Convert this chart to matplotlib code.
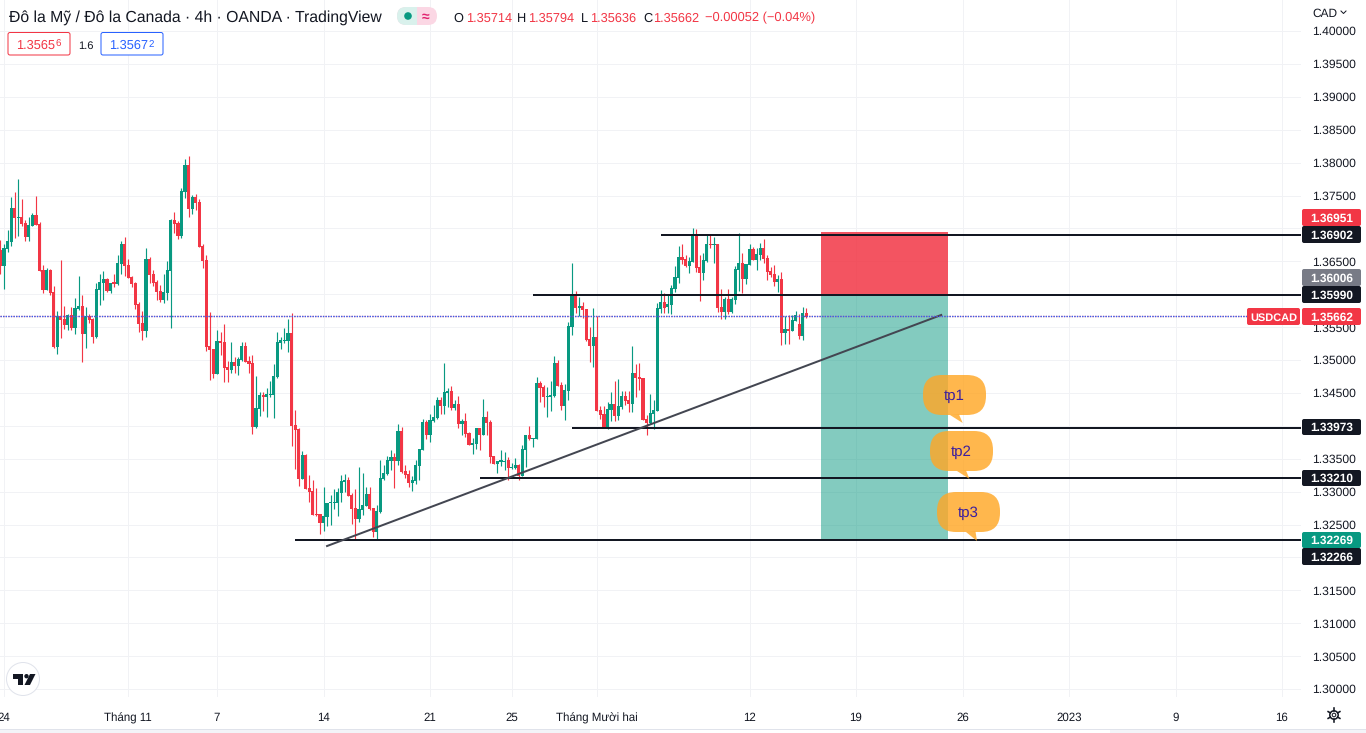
"""USDCAD 4h candlestick chart with a short position drawing, TradingView style."""

import matplotlib
matplotlib.use("Agg")
import matplotlib.pyplot as plt
import numpy as np
from matplotlib.patches import Circle, FancyBboxPatch, Polygon, Rectangle

plt.rcParams["font.family"] = ["Liberation Sans", "DejaVu Sans"]
plt.rcParams["text.hinting"] = "no_hinting"

# prices in pips (price * 10000)
opens = [
    13667,13643,13669,13679,13731,13716,13717,13708,13687,13704,
    13721,13707,13637,13607,13637,13603,13520,13567,13562,13553,
    13569,13549,13578,13582,13540,13567,13562,13535,13607,13617,
    13623,13605,13617,13616,13646,13676,13645,13626,13617,13585,
    13556,13544,13654,13631,13619,13605,13591,13602,13635,13713,
    13708,13689,13755,13797,13730,13748,13740,13673,13652,13521,
    13517,13479,13529,13527,13490,13485,13497,13491,13500,13521,
    13499,13496,13398,13426,13447,13444,13447,13447,13474,13526,
    13529,13529,13541,13401,13395,13319,13356,13306,13301,13266,
    13266,13252,13261,13283,13283,13283,13298,13315,13318,13295,
    13275,13258,13272,13278,13296,13275,13239,13269,13319,13327,
    13347,13353,13347,13392,13331,13327,13313,13316,13339,13363,
    13406,13386,13407,13412,13439,13430,13450,13453,13427,13433,
    13402,13407,13389,13371,13372,13396,13386,13413,13406,13354,
    13342,13345,13345,13348,13336,13336,13340,13323,13363,13386,
    13380,13380,13465,13459,13444,13444,13445,13495,13462,13430,
    13453,13550,13597,13579,13582,13577,13532,13521,13535,13424,
    13418,13398,13424,13433,13415,13429,13446,13439,13433,13481,
    13474,13473,13411,13405,13418,13423,13578,13588,13581,13584,
    13608,13625,13657,13654,13643,13649,13692,13642,13632,13651,
    13677,13675,13677,13581,13573,13593,13573,13591,13637,13648,
    13623,13645,13669,13652,13660,13670,13655,13636,13631,13619,
    13623,13541,13547,13544,13560,13554,13537,13571,
]
highs = [
    13683,13676,13698,13748,13755,13775,13745,13713,13717,13724,
    13749,13710,13645,13640,13638,13613,13575,13652,13582,13570,
    13581,13594,13628,13599,13581,13570,13564,13617,13631,13635,
    13625,13617,13631,13660,13681,13687,13654,13628,13619,13588,
    13575,13670,13657,13637,13622,13614,13631,13651,13714,13725,
    13711,13762,13806,13810,13751,13752,13745,13676,13660,13573,
    13517,13546,13543,13555,13499,13528,13505,13505,13528,13528,
    13506,13508,13476,13452,13452,13458,13468,13494,13543,13535,
    13549,13562,13572,13424,13397,13362,13357,13325,13318,13306,
    13266,13307,13283,13295,13304,13306,13325,13327,13322,13298,
    13304,13337,13328,13307,13307,13275,13280,13348,13340,13354,
    13363,13359,13403,13398,13340,13333,13324,13348,13365,13410,
    13409,13418,13432,13444,13444,13495,13457,13461,13439,13445,
    13410,13419,13390,13381,13396,13396,13440,13422,13409,13354,
    13346,13363,13360,13352,13343,13351,13342,13371,13386,13399,
    13381,13474,13468,13462,13459,13468,13506,13500,13466,13463,
    13558,13647,13605,13596,13588,13577,13550,13579,13567,13430,
    13430,13436,13452,13468,13471,13453,13453,13453,13522,13494,
    13496,13473,13417,13449,13439,13587,13607,13602,13601,13614,
    13643,13674,13677,13660,13657,13701,13699,13660,13663,13692,
    13690,13687,13677,13608,13596,13608,13596,13643,13693,13663,
    13646,13677,13672,13670,13678,13684,13660,13642,13645,13629,
    13634,13567,13569,13569,13575,13570,13581,13579,
]
lows = [
    13631,13608,13664,13673,13685,13688,13704,13681,13681,13704,
    13705,13635,13602,13607,13599,13518,13509,13534,13547,13546,
    13546,13540,13576,13497,13518,13556,13526,13534,13584,13591,
    13603,13602,13611,13614,13631,13628,13625,13611,13578,13543,
    13531,13535,13617,13613,13591,13588,13587,13591,13549,13693,
    13684,13686,13746,13717,13722,13728,13672,13640,13514,13470,
    13473,13479,13508,13467,13467,13480,13480,13477,13499,13497,
    13480,13388,13397,13415,13423,13414,13444,13412,13473,13517,
    13526,13512,13369,13334,13309,13319,13304,13284,13264,13263,
    13236,13240,13248,13249,13274,13263,13284,13299,13293,13251,
    13226,13254,13264,13278,13272,13231,13226,13268,13318,13325,
    13333,13306,13340,13328,13321,13307,13301,13312,13318,13363,
    13380,13375,13406,13410,13418,13418,13429,13424,13424,13396,
    13386,13383,13371,13357,13364,13363,13386,13386,13343,13342,
    13328,13339,13333,13317,13334,13334,13317,13323,13337,13378,
    13368,13380,13436,13428,13413,13422,13444,13460,13424,13409,
    13439,13538,13571,13567,13564,13529,13497,13489,13422,13411,
    13398,13395,13408,13408,13409,13426,13432,13421,13421,13444,
    13455,13409,13386,13403,13395,13423,13572,13572,13572,13570,
    13604,13617,13646,13642,13632,13649,13634,13590,13622,13649,
    13670,13648,13573,13563,13563,13570,13572,13585,13605,13602,
    13616,13645,13652,13637,13652,13648,13622,13626,13613,13604,
    13523,13525,13525,13544,13560,13532,13531,13564,
]
closes = [
    13643,13670,13681,13731,13716,13717,13707,13687,13705,13721,
    13705,13635,13607,13637,13602,13520,13567,13561,13553,13569,
    13549,13579,13582,13540,13567,13561,13535,13608,13619,13623,
    13605,13617,13616,13648,13676,13643,13625,13616,13584,13555,
    13544,13654,13629,13617,13603,13591,13603,13637,13713,13707,
    13689,13757,13797,13730,13748,13739,13672,13651,13520,13515,
    13479,13529,13526,13488,13485,13497,13491,13502,13521,13497,
    13494,13398,13427,13447,13444,13448,13448,13476,13528,13531,
    13531,13541,13400,13394,13319,13356,13304,13299,13264,13264,
    13252,13263,13283,13284,13284,13299,13316,13318,13293,13274,
    13258,13274,13280,13296,13274,13239,13271,13321,13328,13348,
    13353,13347,13392,13330,13325,13313,13318,13340,13365,13406,
    13386,13409,13413,13439,13430,13451,13453,13427,13433,13402,
    13407,13387,13371,13374,13396,13386,13413,13404,13352,13342,
    13346,13348,13346,13336,13337,13340,13323,13364,13386,13380,
    13381,13465,13457,13444,13445,13447,13495,13460,13430,13454,
    13551,13597,13579,13582,13576,13530,13521,13535,13422,13417,
    13398,13426,13433,13415,13430,13446,13438,13433,13481,13473,
    13471,13409,13405,13420,13424,13579,13588,13579,13585,13610,
    13626,13657,13652,13643,13651,13692,13640,13632,13652,13677,
    13675,13677,13579,13573,13593,13573,13593,13639,13648,13623,
    13646,13669,13652,13661,13670,13654,13634,13629,13619,13623,
    13541,13547,13544,13561,13569,13537,13572,13566,
]

# time axis, as bar numbers
time_ticks = [1, 36, 61, 91, 121, 144, 168, 211, 241, 271, 301, 331, 361]
time_labels = ["24", "Tháng 11", "7", "14", "21", "25", "Tháng Mười hai",
               "12", "19", "26", "2023", "9", "16"]

# horizontal levels: price and the bar they start from
level_prices = [1.36902, 1.35990, 1.33973, 1.33210, 1.32266]
level_starts = [186, 150, 161, 135, 83]

# trend line
trend_bars = [92, 265]
trend_prices = [1.32173, 1.35684]

# short position drawing
position_bars = [231, 267]
stop_price = 1.36951
entry_price = 1.36006
target_price = 1.32269

last_price = 1.35662
ask_price = 1.35672

# axis labels that sit fully behind a price tag in the picture
hidden_labels = ["1.32000", "1.34000", "1.36000", "1.37000"]

GREEN = "#089981"
RED = "#f23645"
BLUE = "#2962ff"
DARK = "#131722"
GRID = "#f1f2f5"
PX = 0.72  # one pixel in points at dpi 100

fig = plt.figure(figsize=(13.66, 7.33), dpi=100)
ax = fig.add_axes([0, 1 - 697 / 733, 1301 / 1366, 697 / 733])

bar_px = 3.55
ax.set_xlim(-0.45 / bar_px, (1301 - 0.45) / bar_px)
ax.set_ylim(1.35 - 337 / 6580, 1.35 + 360 / 6580)

o = np.array(opens) / 10000
h = np.array(highs) / 10000
l = np.array(lows) / 10000
c = np.array(closes) / 10000
bars = np.arange(len(o))
colors = np.where(c >= o, GREEN, RED)

ax.vlines(bars, l, h, colors=colors, linewidth=1.15 * PX, zorder=3)
bottoms = np.minimum(o, c)
heights = np.maximum(np.abs(c - o), 0.00018)
ax.bar(bars, heights, bottom=bottoms, width=0.88, color=colors, linewidth=0, zorder=3)

# position box
ax.fill_between(position_bars, entry_price, stop_price, color=RED, alpha=0.85,
                linewidth=0, zorder=2)
ax.fill_between(position_bars, target_price, entry_price, color=GREEN, alpha=0.5,
                linewidth=0, zorder=2)

# levels and trend line
xmax = ax.get_xlim()[1]
ax.hlines(level_prices, level_starts, xmax, color=DARK, linewidth=2 * PX, zorder=4)
ax.plot(trend_bars, trend_prices, color="#434651", linewidth=2 * PX, zorder=4)

# last price / ask lines stop at the symbol tag
ax.hlines(last_price, 0, 351, color=RED, linewidth=1.3 * PX, linestyle=(0, (1, 1)), zorder=4)
ax.hlines(ask_price, 0, 351, color=BLUE, linewidth=1.3 * PX, linestyle=(0, (1, 1)), zorder=4)

price_ticks = np.arange(13000, 14001, 50) / 10000
tick_texts = [f"{p:.5f}" for p in price_ticks]
ax.set_yticks(price_ticks)
ax.set_yticklabels(["" if t in hidden_labels else t for t in tick_texts])
ax.yaxis.tick_right()
ax.set_xticks(time_ticks)
ax.set_xticklabels(time_labels)
ax.tick_params(axis="y", length=0, pad=8, labelsize=8.7, labelcolor=DARK)
ax.tick_params(axis="x", length=0, pad=11, labelsize=8.3, labelcolor=DARK)
ax.grid(True, color=GRID, linewidth=PX)
ax.set_axisbelow(True)
for spine in ax.spines.values():
    spine.set_visible(False)

# everything below is screen furniture, placed in pixels
ui = fig.add_axes([0, 0, 1, 1], facecolor="none")
ui.set_xlim(0, 1366)
ui.set_ylim(733, 0)
ui.set_axis_off()


def rounded(x0, y0, x1, y1, radius=2, **kwargs):
    ui.add_patch(FancyBboxPatch((x0, y0), x1 - x0, y1 - y0,
                                boxstyle=f"round,pad=0,rounding_size={radius}", **kwargs))


def price_tag(text, top, bottom, color):
    rounded(1302, top, 1361, bottom, facecolor=color, linewidth=0)
    ui.text(1331.5, (top + bottom) / 2, text, color="white", fontsize=8.6, fontweight="bold",
            ha="center", va="center_baseline")


price_tag("1.36951", 209, 226, RED)
price_tag("1.36902", 226, 243, DARK)
price_tag("1.36006", 269, 286, "#787b86")
price_tag("1.35990", 286, 303, DARK)
price_tag("1.35662", 308, 325, RED)
price_tag("1.33973", 419, 435, DARK)
price_tag("1.33210", 470, 486, DARK)
price_tag("1.32269", 532, 548, GREEN)
price_tag("1.32266", 548, 565, DARK)
rounded(1247, 308, 1300, 325, facecolor=RED, linewidth=0)
ui.text(1273.5, 316.5, "USDCAD", color="white", fontsize=7.9, fontweight="bold",
        ha="center", va="center_baseline")


def bubble(text, x0, y0, tail):
    width, height = 63, 40
    color = "#ffa726"
    rounded(x0, y0, x0 + width, y0 + height, radius=19, facecolor=color, alpha=0.82, linewidth=0,
            zorder=6)
    ui.add_patch(Polygon(tail, closed=True, facecolor=color, alpha=0.82, linewidth=0, zorder=6))
    ui.text(x0 + 31, y0 + 19.5, text, color="#3c1f9e", fontsize=10.8, ha="center",
            va="center_baseline", zorder=7)


bubble("tp1", 923, 375, [(950, 415), (959, 414.5), (962.7, 423)])
bubble("tp2", 930, 431, [(957, 471), (966, 470.5), (969.5, 479)])
bubble("tp3", 937, 492, [(966, 532), (975.5, 531.5), (977, 541)])

# header
ui.text(9, 15.5, "Đô la Mỹ / Đô la Canada · 4h · OANDA · TradingView", color=DARK,
        fontsize=11.3, va="center_baseline")
ui.add_patch(FancyBboxPatch((397, 7), 40, 18, boxstyle="round,pad=0,rounding_size=9",
                            facecolor="#fbd7e4", linewidth=0))
pill_left = FancyBboxPatch((397, 7), 40, 18, boxstyle="round,pad=0,rounding_size=9",
                           facecolor="#d9f1ec", linewidth=0)
ui.add_patch(pill_left)
pill_left.set_clip_path(Rectangle((397, 7), 20, 18, transform=ui.transData))
ui.add_patch(Circle((408, 16), 3.8, facecolor=GREEN, linewidth=0))
ui.text(426, 15.5, "≈", color="#e0226e", fontsize=10, ha="center", va="center_baseline",
        fontweight="bold")

for letter, letter_x, value, value_x in [("O", 453, "1.35714", 466), ("H", 517, "1.35794", 528),
                                         ("L", 581, "1.35636", 590), ("C", 643, "1.35662", 653)]:
    ui.text(letter_x, 17, letter, color=DARK, fontsize=9.2, va="center_baseline")
    ui.text(value_x, 17, value, color=RED, fontsize=9.2, va="center_baseline")
ui.text(705, 17, "−0.00052 (−0.04%)", color=RED, fontsize=9.3, va="center_baseline")

# bid / ask buttons
for x0, x1, color, main, small in [(8, 70, RED, "1.3565", "6"), (101, 163, BLUE, "1.3567", "2")]:
    rounded(x0, 32.5, x1, 55, facecolor="white", edgecolor=color, linewidth=PX)
    ui.text(x0 + 8.5, 44.5, main, color=color, fontsize=9.2, va="center_baseline")
    ui.text(x0 + 47.5, 43, small, color=color, fontsize=7, va="center_baseline")
ui.text(86, 44.5, "1.6", color=DARK, fontsize=8, ha="center", va="center_baseline")

# currency selector
ui.text(1312, 12.5, "CAD", color=DARK, fontsize=8.6, va="center_baseline")
ui.plot([1341, 1343.5, 1346], [11, 13.5, 11], color=DARK, linewidth=PX)

# logo
ui.add_patch(Circle((23, 679), 16.5, facecolor="white", edgecolor="#e0e3eb", linewidth=PX))
ui.add_patch(Polygon([(13, 674), (23, 674), (23, 685), (18, 685), (18, 679), (13, 679)],
                     closed=True, facecolor=DARK, linewidth=0))
ui.add_patch(Circle((26.5, 676.2), 2.2, facecolor=DARK, linewidth=0))
ui.add_patch(Polygon([(30, 674), (35.5, 674), (30, 685), (24.5, 685)], closed=True,
                     facecolor=DARK, linewidth=0))

# settings gear
ui.add_patch(Circle((1334, 715), 4.2, facecolor="none", edgecolor=DARK, linewidth=1.5 * PX))
ui.add_patch(Circle((1334, 715), 1.8, facecolor="none", edgecolor=DARK, linewidth=PX))
for angle in np.deg2rad(np.arange(0, 360, 60) + 30):
    ui.plot([1334 + 4.2 * np.cos(angle), 1334 + 6.8 * np.cos(angle)],
            [715 + 4.2 * np.sin(angle), 715 + 6.8 * np.sin(angle)],
            color=DARK, linewidth=1.6 * PX)

# bottom edge of the widget
ui.add_patch(Rectangle((0, 729), 1366, 4, facecolor="#f3f4f8", edgecolor="none"))
ui.plot([0, 1366], [729, 729], color="#e0e3eb", linewidth=PX)
ui.add_patch(Rectangle((590, 729.5), 520, 4, facecolor="white", edgecolor="none"))

fig.savefig("out.png", dpi=100)
